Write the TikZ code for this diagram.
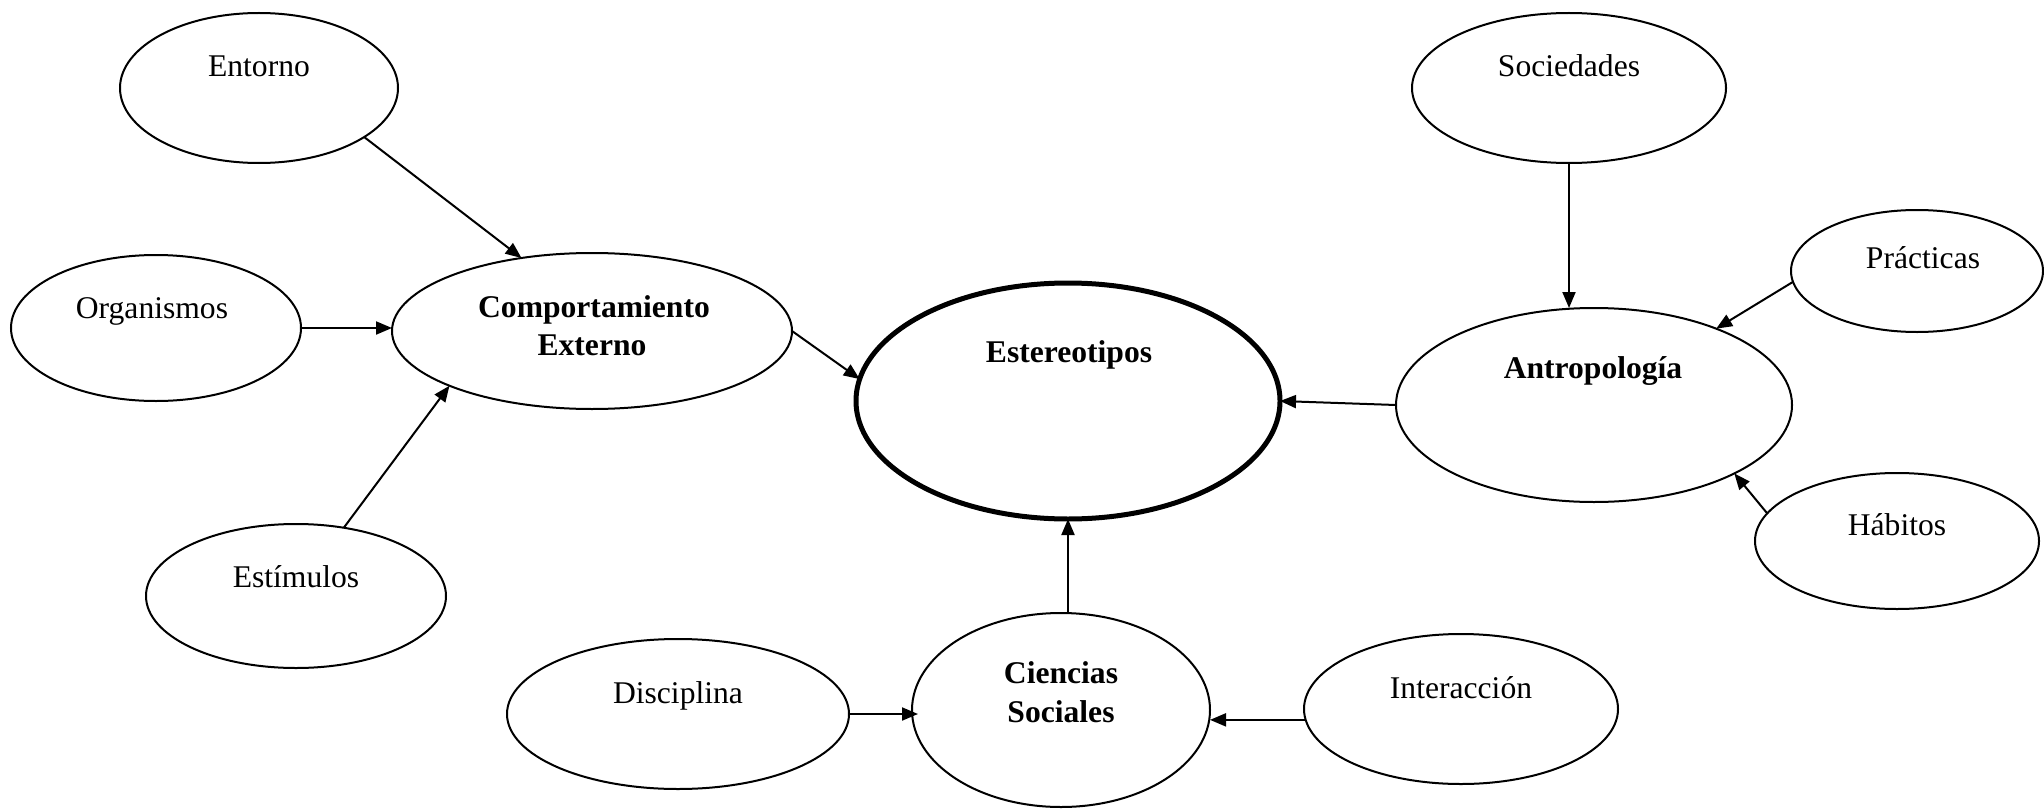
\documentclass[tikz,border=0pt]{standalone}
\usepackage{fontspec}
\setmainfont{Liberation Serif}
\usetikzlibrary{shapes.geometric,arrows.meta,calc}
\tikzset{
  oval/.style 2 args={draw, ellipse, inner sep=0pt, outer sep=0pt, line width=1pt,
    minimum width=#1pt, minimum height=#2pt},
  lbl/.style={anchor=base, inner sep=0pt, font=\fontsize{15.8}{19}\selectfont},
  blbl/.style={anchor=base, inner sep=0pt, font=\fontsize{15.8}{19}\selectfont\bfseries},
  arr/.style={-{Triangle[length=8pt,width=6.5pt]}, line width=1pt},
}
\begin{document}
\begin{tikzpicture}[x=0.5pt,y=-0.5pt]
\useasboundingbox (0,0) rectangle (2044,808);
% ellipses
\node[oval={139}{75}] (ent) at (259,88) {};
\node[oval={145}{73}] (org) at (156,328) {};
\node[oval={200}{78}] (comp) at (592,331) {};
\node[oval={150}{72}] (estim) at (296,596) {};
\node[oval={171}{75}] (disc) at (678,714) {};
\node[oval={212}{118}, line width=2.5pt] (ester) at (1068,401) {};
\node[oval={157}{75}] (soc) at (1569,88) {};
\node[oval={126}{61}] (prac) at (1917,271) {};
\node[oval={198}{97}] (antro) at (1594,405) {};
\node[oval={142}{68}] (hab) at (1897,541) {};
\node[oval={157}{75}] (inter) at (1461,709) {};
\node[oval={149}{97}] (cien) at (1061,710) {};
% texts
\node[lbl] (ent-t) at (259,76) {Entorno};
\node[lbl] (org-t) at (152,318) {Organismos};
\node[blbl] (comp-t1) at (594,317) {Comportamiento};
\node[blbl] (comp-t2) at (592,355) {Externo};
\node[lbl] (estim-t) at (296,587) {Estímulos};
\node[lbl] (disc-t) at (678,703) {Disciplina};
\node[blbl] (ester-t) at (1069,362) {Estereotipos};
\node[lbl] (soc-t) at (1569,77) {Sociedades};
\node[lbl] (prac-t) at (1923,268) {Prácticas};
\node[blbl] (antro-t) at (1593,378) {Antropología};
\node[lbl] (hab-t) at (1897,535) {Hábitos};
\node[lbl] (inter-t) at (1461,698) {Interacción};
\node[blbl] (cien-t1) at (1061,683) {Ciencias};
\node[blbl] (cien-t2) at (1061,722) {Sociales};
% connectors
\draw[arr] (ent.-25.3) -- (comp.134.6);
\draw[arr] (org.east) -- (org.east -| comp.west);
\draw[arr] (estim.55.7) -- (comp.201.7);
\draw[arr] (comp.east) -- (ester.174);
\draw[arr] (antro.west) -- (ester.east);
\draw[arr] (cien.north -| ester.south) -- (ester.south);
\draw[arr, shorten >=-3pt] (disc.east) -- (disc.east -| cien.west);
\draw[arr] (inter.184) -- (inter.184 -| cien.east);
\draw[arr] (soc.south) -- (soc.south |- antro.north);
\draw[arr] (prac.185.4) -- (antro.32.5);
\draw[arr] (hab.168.8) -- (antro.-26.4);
\end{tikzpicture}
\end{document}
